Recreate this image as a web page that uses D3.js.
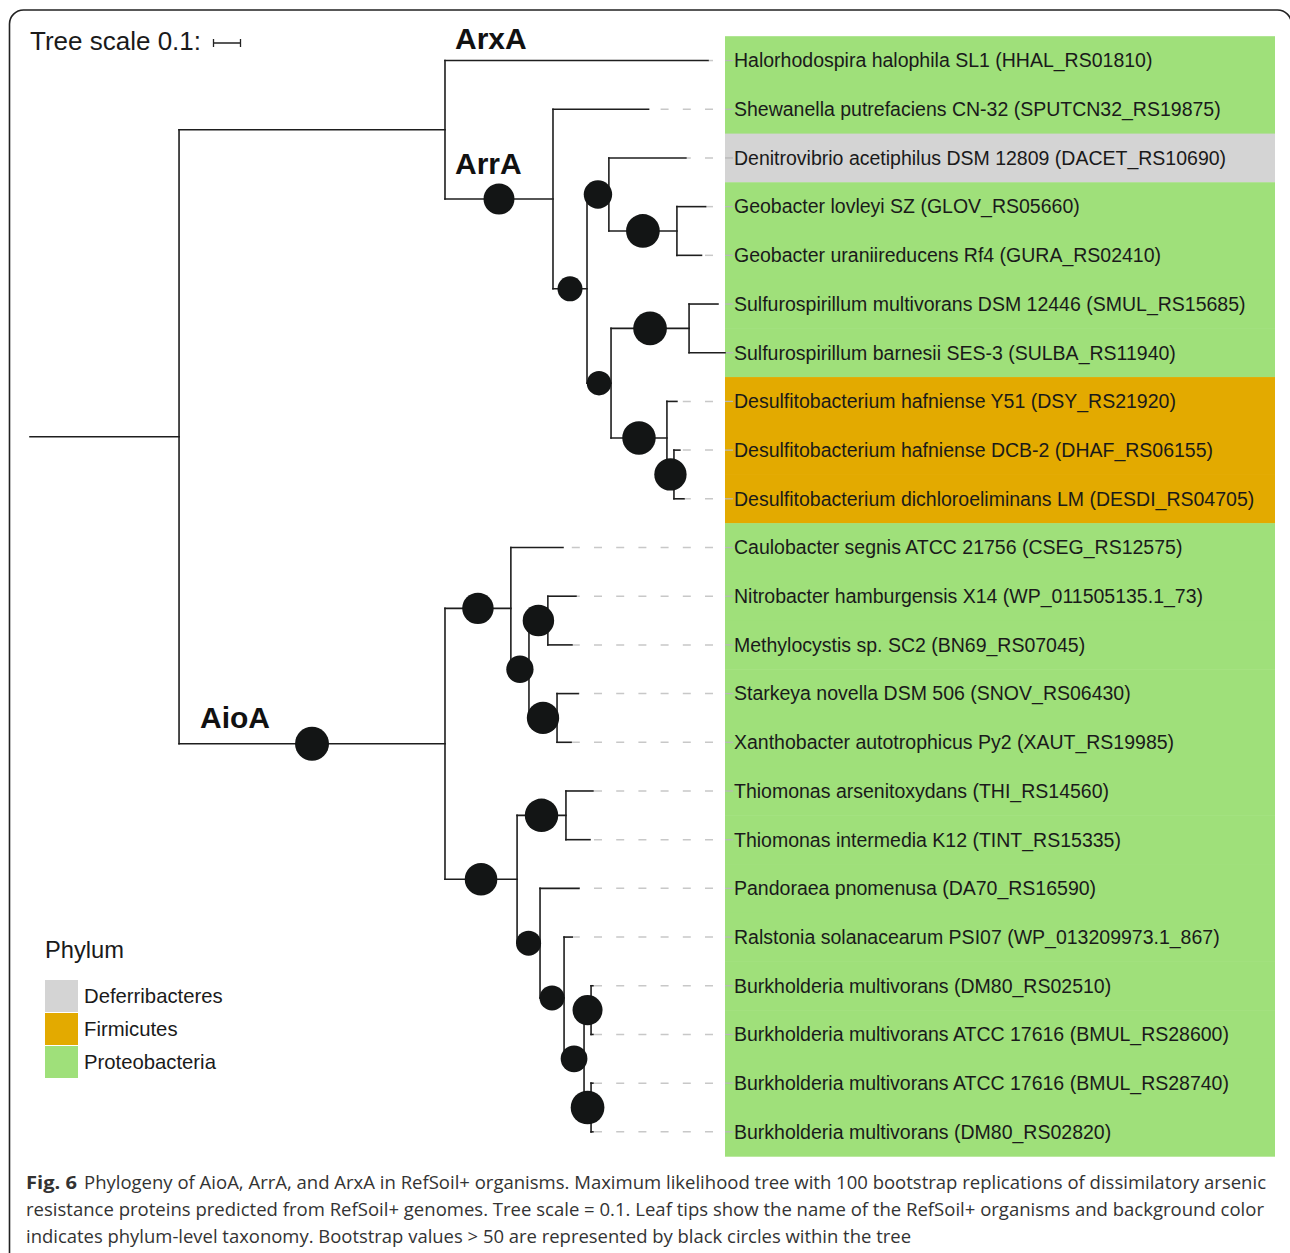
<!DOCTYPE html>
<html>
<head>
<meta charset="utf-8">
<script src="https://cdn.jsdelivr.net/npm/d3@7"></script>
<style>
  body { margin: 0; background: #fff; }
  svg { display: block; }
</style>
</head>
<body>
<svg id="fig" width="1290" height="1253"></svg>
<script>
// Leaf tips, top to bottom
const leafIds = ["HHAL","SPUT","DACET","GLOV","GURA","SMUL","SULBA","DSY","DHAF","DESDI",
  "CSEG","NITRO","BN69","SNOV","XAUT","THI","TINT","DA70","RSOL","BUR1","BUR2","BUR3","BUR4"];
const leafNames = [
  "Halorhodospira halophila SL1 (HHAL_RS01810)",
  "Shewanella putrefaciens CN-32 (SPUTCN32_RS19875)",
  "Denitrovibrio acetiphilus DSM 12809 (DACET_RS10690)",
  "Geobacter lovleyi SZ (GLOV_RS05660)",
  "Geobacter uraniireducens Rf4 (GURA_RS02410)",
  "Sulfurospirillum multivorans DSM 12446 (SMUL_RS15685)",
  "Sulfurospirillum barnesii SES-3 (SULBA_RS11940)",
  "Desulfitobacterium hafniense Y51 (DSY_RS21920)",
  "Desulfitobacterium hafniense DCB-2 (DHAF_RS06155)",
  "Desulfitobacterium dichloroeliminans LM (DESDI_RS04705)",
  "Caulobacter segnis ATCC 21756 (CSEG_RS12575)",
  "Nitrobacter hamburgensis X14 (WP_011505135.1_73)",
  "Methylocystis sp. SC2 (BN69_RS07045)",
  "Starkeya novella DSM 506 (SNOV_RS06430)",
  "Xanthobacter autotrophicus Py2 (XAUT_RS19985)",
  "Thiomonas arsenitoxydans (THI_RS14560)",
  "Thiomonas intermedia K12 (TINT_RS15335)",
  "Pandoraea pnomenusa (DA70_RS16590)",
  "Ralstonia solanacearum PSI07 (WP_013209973.1_867)",
  "Burkholderia multivorans (DM80_RS02510)",
  "Burkholderia multivorans ATCC 17616 (BMUL_RS28600)",
  "Burkholderia multivorans ATCC 17616 (BMUL_RS28740)",
  "Burkholderia multivorans (DM80_RS02820)"
];
const leafPhyla = [
  "Proteobacteria","Proteobacteria","Deferribacteres","Proteobacteria","Proteobacteria",
  "Proteobacteria","Proteobacteria","Firmicutes","Firmicutes","Firmicutes",
  "Proteobacteria","Proteobacteria","Proteobacteria","Proteobacteria","Proteobacteria",
  "Proteobacteria","Proteobacteria","Proteobacteria","Proteobacteria","Proteobacteria",
  "Proteobacteria","Proteobacteria","Proteobacteria"
];

// Tree topology (children listed in drawing order), branch lengths, bootstrap support
const nodeIds = ["root","n1","n2","HHAL","n3","SPUT","n4","n5","DACET","n6","GLOV","GURA",
  "n7","n8","SMUL","SULBA","n9","DSY","n10","DHAF","DESDI",
  "n11","n12","CSEG","n13","n14","NITRO","BN69","n15","SNOV","XAUT",
  "n16","n17","THI","TINT","n18","DA70","n19","RSOL","n20","n21","BUR1","BUR2","n22","BUR3","BUR4"];
const nodeParents = ["","root","n1","n2","n2","n3","n3","n4","n5","n5","n6","n6",
  "n4","n7","n8","n8","n7","n9","n9","n10","n10",
  "n1","n11","n12","n12","n13","n14","n14","n13","n15","n15",
  "n11","n16","n17","n17","n16","n18","n18","n19","n19","n20","n21","n21","n20","n22","n22"];
const branchLengths = [0, 0.552, 0.985, 0.974, 0.400, 0.354, 0.126, 0.081, 0.285, 0.252, 0.106, 0.091,
  0.089, 0.289, 0.107, 0.133, 0.207, 0.037, 0.026, 0.022, 0.037,
  0.985, 0.244, 0.193, 0.067, 0.070, 0.104, 0.089, 0.104, 0.078, 0.052,
  0.267, 0.181, 0.100, 0.089, 0.085, 0.144, 0.089, 0.030, 0.074, 0.026, 0.007, 0.007, 0.026, 0.007, 0.007];
const bootstraps = [null, null, null, null, 89, null, 68, 80, null, 99, null, null,
  66, 99, null, null, 98, null, 94, null, null,
  100, 91, null, 76, 91, null, null, 94, null, null,
  95, 98, null, null, 68, null, 68, null, 74, 86, null, null, 99, null, null];

const phylumNames = ["Deferribacteres", "Firmicutes", "Proteobacteria"];
const phylumColors = ["#d4d4d4", "#e3aa00", "#9fe07a"];

const cladeNames = ["ArxA", "ArrA", "AioA"];
const cladeNodes = ["HHAL", "n3", "n11"];

const captionLines = [
  ["Fig. 6", "Phylogeny of AioA, ArrA, and ArxA in RefSoil+ organisms. Maximum likelihood tree with 100 bootstrap replications of dissimilatory arsenic"],
  ["", "resistance proteins predicted from RefSoil+ genomes. Tree scale = 0.1. Leaf tips show the name of the RefSoil+ organisms and background color"],
  ["", "indicates phylum-level taxonomy. Bootstrap values > 50 are represented by black circles within the tree"]
];

const svg = d3.select("#fig");
const FONT = "'Liberation Sans', Arial, sans-serif";

// Outer rounded frame
svg.append("rect")
  .attr("x", 9.5).attr("y", 10).attr("width", 1282).attr("height", 1262)
  .attr("rx", 14).attr("fill", "none").attr("stroke", "#222").attr("stroke-width", 1.6);

// Build hierarchy
const rows = nodeIds.map((id, i) => ({
  id, parentId: nodeParents[i] || null, length: branchLengths[i], bootstrap: bootstraps[i]
}));
const root = d3.stratify().id(d => d.id).parentId(d => d.parentId)(rows);
root.each(n => { n.dist = n.parent ? n.parent.dist + n.data.length : 0; });

// Scales
const x = d3.scaleLinear().domain([0, 1]).range([30, 300]);   // 0.1 = 27 px
const yBand = d3.scaleBand().domain(leafIds).range([36.2, 1156.2]).padding(0);
const yOf = id => yBand(id) + yBand.bandwidth() / 2;
const color = d3.scaleOrdinal().domain(phylumNames).range(phylumColors);
const rScale = d3.scaleLinear().domain([50, 100]).range([10, 17]);

// Leaf y from order, internal y as midpoint of first/last child
root.eachAfter(n => {
  if (!n.children) n.y = yOf(n.id);
  else n.y = (n.children[0].y + n.children[n.children.length - 1].y) / 2;
});

// Phylum background strips
const LABEL_X = 725;
svg.append("g").selectAll("rect")
  .data(leafIds)
  .join("rect")
  .attr("x", LABEL_X).attr("width", 550)
  .attr("y", d => yBand(d)).attr("height", yBand.bandwidth() + 0.5)
  .attr("fill", (d, i) => color(leafPhyla[i]));

const leaves = root.leaves();

// Dashed guides from tips to the label column
const DASH_END = 713;
svg.append("g").selectAll("path")
  .data(leaves.filter(n => x(n.dist) < DASH_END))
  .join("path")
  .attr("d", n => `M${DASH_END},${n.y}H${x(n.dist)}`)
  .attr("stroke", "#c8c8c8").attr("stroke-width", 1.5)
  .attr("stroke-dasharray", "8,14.2").attr("fill", "none");

// Small ticks before each label
svg.append("g").selectAll("line")
  .data(leaves)
  .join("line")
  .attr("x1", LABEL_X).attr("x2", LABEL_X + 8)
  .attr("y1", n => n.y).attr("y2", n => n.y)
  .attr("stroke", "#b8b8b8").attr("stroke-width", 1.3);

// Branches (rectangular layout)
const gTree = svg.append("g")
  .attr("fill", "none").attr("stroke", "#1e1e1e").attr("stroke-width", 1.6)
  .attr("stroke-linecap", "square");
gTree.selectAll("path.h")
  .data(root.descendants().filter(n => n.parent))
  .join("path").attr("class", "h")
  .attr("d", n => `M${x(n.parent.dist)},${n.y}H${x(n.dist)}`);
gTree.selectAll("path.v")
  .data(root.descendants().filter(n => n.children && n.parent))
  .join("path").attr("class", "v")
  .attr("d", n => `M${x(n.dist)},${n.children[0].y}V${n.children[n.children.length - 1].y}`);

// Bootstrap circles at branch midpoints
svg.append("g").selectAll("circle")
  .data(root.descendants().filter(n => n.data.bootstrap != null))
  .join("circle")
  .attr("cx", n => (x(n.parent.dist) + x(n.dist)) / 2)
  .attr("cy", n => n.y)
  .attr("r", n => rScale(n.data.bootstrap))
  .attr("fill", "#131515");

// Leaf labels
svg.append("g").selectAll("text")
  .data(leaves)
  .join("text")
  .attr("x", LABEL_X + 9).attr("y", n => n.y)
  .attr("dy", "0.35em")
  .attr("font-family", FONT).attr("font-size", 19.5).attr("fill", "#1a1a1a")
  .text(n => leafNames[leafIds.indexOf(n.id)]);

// Clade labels above their stem branches
const cladeOffsets = { ArxA: [10, -12], ArrA: [10, -25], AioA: [21, -16] };
cladeNames.forEach((name, i) => {
  const n = root.find(d => d.id === cladeNodes[i]);
  const [dx, dy] = cladeOffsets[name];
  svg.append("text")
    .attr("x", x(n.parent.dist) + dx).attr("y", n.y + dy)
    .attr("font-family", FONT).attr("font-weight", "bold").attr("font-size", 30)
    .attr("fill", "#111").text(name);
});

// Tree scale
svg.append("text").attr("x", 30).attr("y", 49.5)
  .attr("font-family", FONT).attr("font-size", 26).attr("fill", "#1a1a1a")
  .text("Tree scale 0.1:");
const sb0 = 213.5, sb1 = sb0 + (x(0.1) - x(0));
svg.append("path")
  .attr("d", `M${sb0},39V47M${sb0},43H${sb1}M${sb1},39V47`)
  .attr("fill", "none").attr("stroke", "#222").attr("stroke-width", 1.3);

// Legend
const lg = svg.append("g");
lg.append("text").attr("x", 45).attr("y", 958)
  .attr("font-family", FONT).attr("font-size", 23.7).attr("fill", "#1a1a1a").text("Phylum");
phylumNames.forEach((p, i) => {
  const y0 = 980 + i * 33;
  lg.append("rect").attr("x", 45).attr("y", y0).attr("width", 33).attr("height", 32)
    .attr("fill", phylumColors[i]);
  lg.append("text").attr("x", 84).attr("y", y0 + 16).attr("dy", "0.36em")
    .attr("font-family", FONT).attr("font-size", 20.3).attr("fill", "#1a1a1a").text(p);
});

// Caption
const CAP_FONT = "'Open Sans', sans-serif";
const capBase = [1189, 1216, 1243];
const capEnds = [1266, 1264, 911];
captionLines.forEach(([bold, rest], i) => {
  let startX = 26;
  if (bold) {
    svg.append("text").attr("x", 26).attr("y", capBase[i])
      .attr("font-family", CAP_FONT).attr("font-weight", "bold").attr("font-size", 18.5)
      .attr("fill", "#333").attr("textLength", 51).attr("lengthAdjust", "spacingAndGlyphs")
      .text(bold);
    startX = 84;
  }
  svg.append("text").attr("x", startX).attr("y", capBase[i])
    .attr("font-family", CAP_FONT).attr("font-size", 18.5).attr("fill", "#333")
    .attr("textLength", capEnds[i] - startX).attr("lengthAdjust", "spacingAndGlyphs")
    .text(rest);
});
</script>
</body>
</html>
